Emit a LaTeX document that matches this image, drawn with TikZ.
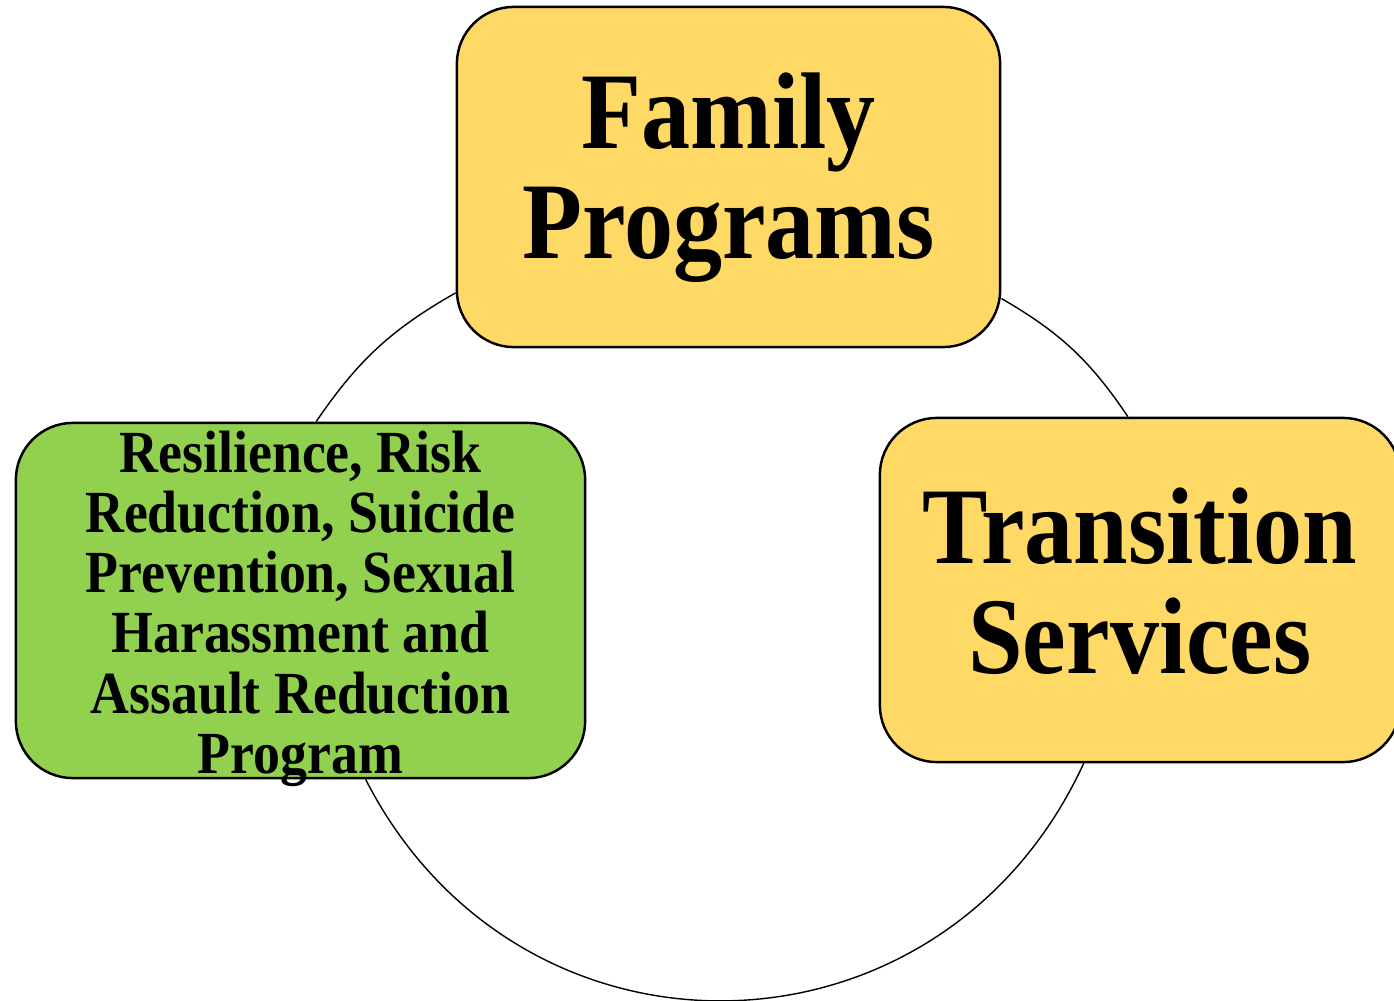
\documentclass[tikz,border=0pt]{standalone}
\usepackage{fontspec}
\setmainfont{Liberation Serif}[FakeStretch=0.9]
\usetikzlibrary{backgrounds}
\definecolor{yfill}{RGB}{255,217,102}
\definecolor{gfill}{RGB}{146,208,80}
\begin{document}
\begin{tikzpicture}[x=0.01cm,y=-0.01cm,
  box/.style={draw=black, line width=0.7pt, rounded corners=0.57cm, inner sep=0pt},
  boxtext/.style={align=center, inner sep=0pt},
  bigtext/.style={font=\fontsize{31}{31.3}\selectfont\bfseries},
  smalltext/.style={font=\fontsize{17}{17.1}\selectfont\bfseries},
  cycarc/.style={draw=black, line width=0.4pt}]
\useasboundingbox (0,0) rectangle (1394,1000);
\clip (0,0) rectangle (1394,1000);
\node[box, fill=yfill, minimum width=5.43cm, minimum height=3.40cm] (fam) at (728.5,177) {};
\node[boxtext, bigtext] (famlabel) at (728.5,178) {Family\\Programs};
\node[box, fill=yfill, minimum width=5.20cm, minimum height=3.44cm] (ts) at (1140,590) {};
\node[boxtext, bigtext] (tslabel) at (1140,581) {Transition\\Services};
\node[box, fill=gfill, minimum width=5.69cm, minimum height=3.55cm] (rr) at (300.5,600.5) {};
\node[boxtext, smalltext] (rrlabel) at (300.5,600.5) {\rule{0pt}{16.5pt}Resilience, Risk\\Reduction, Suicide\\Prevention, Sexual\\Harassment and\\Assault Reduction\\Program};
\begin{scope}[on background layer]
  \draw[cycarc] (fam.203.6) to[bend right=13] (rr.85.6);
  \draw[cycarc] (fam.336.4) to[bend left=13] (ts.94.65);
  \draw[cycarc] (rr.290.5) .. controls +(297.1:3.4cm) and +(245.3:3.4cm) .. (ts.252.1);
\end{scope}
\end{tikzpicture}
\end{document}
